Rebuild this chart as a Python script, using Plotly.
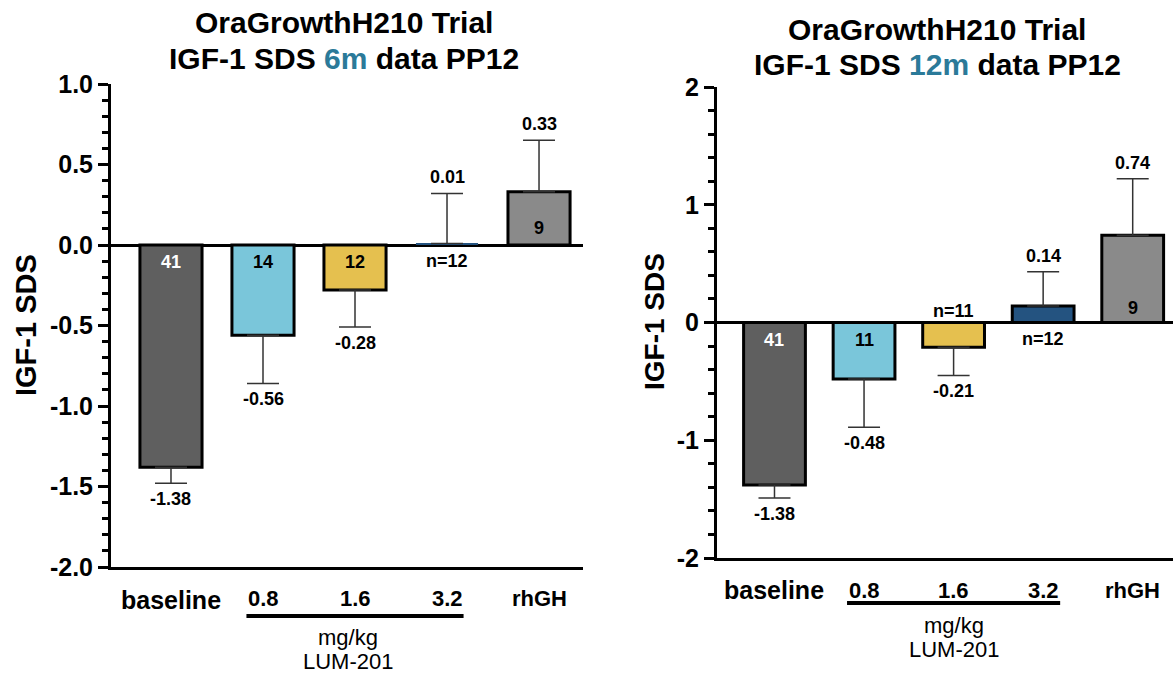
import plotly.graph_objects as go

# ---------------- data ----------------
categories = ["baseline", "0.8", "1.6", "3.2", "rhGH"]

mean_6m = [-1.38, -0.56, -0.28, 0.01, 0.33]
err_6m = [0.10, 0.30, 0.23, 0.31, 0.32]
n_6m = ["41", "14", "12", "n=12", "9"]
colors_6m = ["#5F5F5F", "#7AC6DA", "#E5C04F", "#245380", "#8A8A8A"]

mean_12m = [-1.38, -0.48, -0.21, 0.14, 0.74]
err_12m = [0.11, 0.41, 0.24, 0.29, 0.48]
n_12m = ["41", "11", "n=11", "n=12", "9"]
colors_12m = ["#5F5F5F", "#7AC6DA", "#E5C04F", "#245380", "#8A8A8A"]
n_colors = ["white", "black", "black", "black", "black"]

yticks_6m = [-2.0, -1.5, -1.0, -0.5, 0.0, 0.5, 1.0]
yticks_12m = [-2, -1, 0, 1, 2]

FONT = "Liberation Sans, Arial, Helvetica, sans-serif"
W, H = 1173, 680
xpos = list(range(len(categories)))


def py(px):
    return 1 - px / H


fig = go.Figure()

panels = [
    dict(mean=mean_6m, err=err_6m, n=n_6m, colors=colors_6m, xa="x", ya="y", width=0.675, nine=17),
    dict(mean=mean_12m, err=err_12m, n=n_12m, colors=colors_12m, xa="x2", ya="y2", width=0.69, nine=15),
]

annotations = []
for p in panels:
    plus = [e if v >= 0 else 0 for v, e in zip(p["mean"], p["err"])]
    minus = [e if v < 0 else 0 for v, e in zip(p["mean"], p["err"])]
    line_w = [3 if abs(v) > 0.05 else 0 for v in p["mean"]]
    fig.add_trace(go.Bar(
        x=xpos, y=p["mean"], xaxis=p["xa"], yaxis=p["ya"],
        width=p["width"],
        marker=dict(color=p["colors"], line=dict(color="black", width=line_w)),
        error_y=dict(type="data", symmetric=False, array=plus, arrayminus=minus,
                     color="#333333", thickness=1.5, width=16),
        showlegend=False, hoverinfo="skip",
    ))
    for i, (v, e, n) in enumerate(zip(p["mean"], p["err"], p["n"])):
        s = 1 if v >= 0 else -1
        # value label beyond the error bar
        annotations.append(dict(
            x=xpos[i], y=v + s * e, xref=p["xa"], yref=p["ya"], yshift=s * 16,
            text=f"<b>{v:.2f}</b>", showarrow=False, xanchor="center", yanchor="middle",
            font=dict(family=FONT, size=18, color="black")))
        # n label
        if n.startswith("n="):
            shift = -16 if v >= 0 else 12
        else:
            shift = -17 if v < 0 else p["nine"]
        annotations.append(dict(
            x=xpos[i], y=0, xref=p["xa"], yref=p["ya"], yshift=shift,
            text=f"<b>{n}</b>", showarrow=False, xanchor="center", yanchor="middle",
            font=dict(family=FONT, size=18, color=n_colors[i])))

# category labels under the axes
for xa, ybase, yother in [("x", 600, 598), ("x2", 590, 590)]:
    for i, c in enumerate(categories):
        big = c == "baseline"
        annotations.append(dict(
            x=xpos[i], y=py(ybase if big else yother), xref=xa, yref="paper",
            text=f"<b>{c}</b>", showarrow=False, xanchor="center", yanchor="middle",
            font=dict(family=FONT, size=25 if big else 22, color="black")))

mid = xpos[2]
annotations += [
    dict(x=mid, y=py(637), xref="x", yref="paper", xshift=-7, text="mg/kg", showarrow=False,
         xanchor="center", yanchor="middle", font=dict(family=FONT, size=22, color="black")),
    dict(x=mid, y=py(661), xref="x", yref="paper", xshift=-7, text="LUM-201", showarrow=False,
         xanchor="center", yanchor="middle", font=dict(family=FONT, size=22, color="black")),
    dict(x=mid, y=py(625), xref="x2", yref="paper", text="mg/kg", showarrow=False,
         xanchor="center", yanchor="middle", font=dict(family=FONT, size=22, color="black")),
    dict(x=mid, y=py(649), xref="x2", yref="paper", text="LUM-201", showarrow=False,
         xanchor="center", yanchor="middle", font=dict(family=FONT, size=22, color="black")),
]

# titles
HL = "#2B7A99"
annotations += [
    dict(x=344 / W, y=py(23), xref="paper", yref="paper", showarrow=False,
         xanchor="center", yanchor="middle",
         text="<b>OraGrowthH210 Trial</b>", font=dict(family=FONT, size=30, color="black")),
    dict(x=344 / W, y=py(58), xref="paper", yref="paper", showarrow=False,
         xanchor="center", yanchor="middle",
         text=f"<b>IGF-1 SDS <span style='color:{HL}'>6m</span> data PP12</b>",
         font=dict(family=FONT, size=30, color="black")),
    dict(x=937 / W, y=py(30), xref="paper", yref="paper", showarrow=False,
         xanchor="center", yanchor="middle",
         text="<b>OraGrowthH210 Trial</b>", font=dict(family=FONT, size=30, color="black")),
    dict(x=937 / W, y=py(64), xref="paper", yref="paper", showarrow=False,
         xanchor="center", yanchor="middle",
         text=f"<b>IGF-1 SDS <span style='color:{HL}'>12m</span> data PP12</b>",
         font=dict(family=FONT, size=30, color="black")),
    dict(x=26 / W, y=py(325), xref="paper", yref="paper", showarrow=False, textangle=-90,
         xanchor="center", yanchor="middle",
         text="<b>IGF-1 SDS</b>", font=dict(family=FONT, size=29, color="black")),
    dict(x=654 / W, y=py(322), xref="paper", yref="paper", showarrow=False, textangle=-90,
         xanchor="center", yanchor="middle",
         text="<b>IGF-1 SDS</b>", font=dict(family=FONT, size=28, color="black")),
]

shapes = [
    dict(type="line", xref="x", yref="paper", x0=xpos[1] - 0.18, x1=xpos[3] + 0.18,
         y0=py(616), y1=py(616), line=dict(color="black", width=4)),
    dict(type="line", xref="x2", yref="paper", x0=xpos[1] - 0.19, x1=xpos[3] + 0.19,
         y0=py(603), y1=py(603), line=dict(color="black", width=4)),
]

xcommon = dict(showline=True, linewidth=3, linecolor="black", showticklabels=False,
               ticks="", showgrid=False, zeroline=False, fixedrange=True, automargin=False)
ycommon = dict(showline=True, linewidth=3, linecolor="black", ticks="outside", ticklen=10,
               tickwidth=3, tickcolor="black", showgrid=False, zeroline=True,
               zerolinewidth=3, zerolinecolor="black", fixedrange=True, automargin=False,
               tickfont=dict(family=FONT, size=25, color="black"))

fig.update_layout(
    width=W, height=680, autosize=False,
    margin=dict(l=0, r=0, t=0, b=0, pad=0),
    paper_bgcolor="white", plot_bgcolor="white",
    xaxis=dict(domain=[111 / W, 583 / W], range=[-0.652, 4.478], anchor="y", **xcommon),
    yaxis=dict(domain=[py(567), py(84)], range=[-2.0, 1.0], anchor="x",
               tickvals=yticks_6m, ticktext=[f"<b>{v:.1f}</b>" for v in yticks_6m],
               minor=dict(ticks="outside", dtick=0.1, ticklen=6, tickwidth=3, tickcolor="black"),
               **ycommon),
    xaxis2=dict(domain=[717 / W, 1.0], range=[-0.642, 4.45], anchor="y2", **xcommon),
    yaxis2=dict(domain=[py(558), py(87)], range=[-2, 2], anchor="x2",
                tickvals=yticks_12m, ticktext=[f"<b>{v}</b>" for v in yticks_12m],
                minor=dict(ticks="outside", dtick=0.2, ticklen=6, tickwidth=3, tickcolor="black"),
                **ycommon),
    annotations=annotations,
    shapes=shapes,
)

fig.write_html("out.html")
